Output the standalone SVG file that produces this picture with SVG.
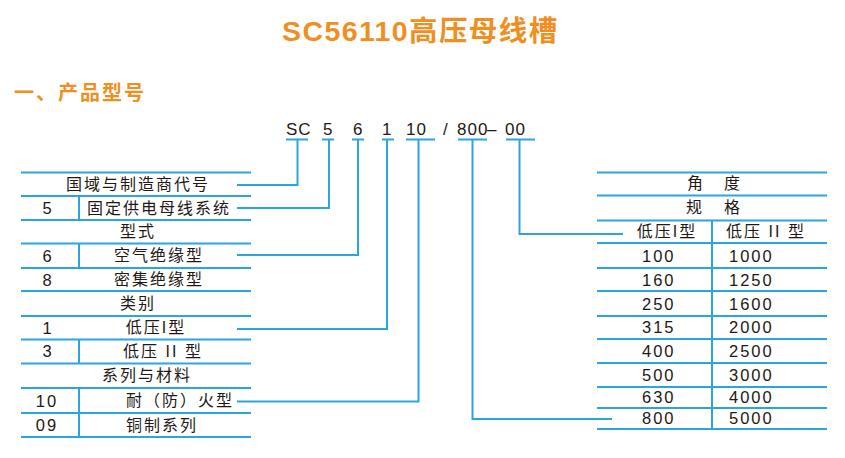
<svg xmlns="http://www.w3.org/2000/svg" width="845" height="458" viewBox="0 0 845 458">
<style>
.t{font-family:"Liberation Sans","Noto Sans CJK SC",sans-serif;fill:#231815;font-size:16px;letter-spacing:2px}
.n{font-family:"Liberation Sans","Noto Sans CJK SC",sans-serif;fill:#231815;font-size:16.5px;letter-spacing:2px}
.c{font-family:"Liberation Sans","Noto Sans CJK SC",sans-serif;fill:#231815;font-size:17px;letter-spacing:1px}
.h{font-family:"Liberation Sans","Noto Sans CJK SC",sans-serif;fill:#EF8F1F;font-weight:bold}
.m{text-anchor:middle}
.l{stroke:#2AA5DE;stroke-width:2;fill:none}
</style>
<rect width="845" height="458" fill="#fff"/>
<text class="h" x="282" y="41" font-size="28.5" letter-spacing="1.4">SC56110高压母线槽</text>
<text class="h" x="14" y="100" font-size="20" letter-spacing="2">一、产品型号</text>

<g id="code">
<text class="c" y="135"><tspan x="286">SC</tspan><tspan x="323">5</tspan><tspan x="353">6</tspan><tspan x="382">1</tspan><tspan x="406">10</tspan><tspan x="443">/</tspan><tspan x="457">800</tspan><tspan x="487">–</tspan><tspan x="505">00</tspan></text>
</g>

<g id="left-table">
<g class="l">
<path d="M21 172.5H251M21 196H251M21 220H251M21 243.5H251M21 268H251M21 291H251M21 316H251M21 339.5H251M21 363.5H251M21 388H251M21 413H251M21 437H251"/>
<path d="M79 196V220M79 243.5V268M79 339.5V363.5M79 388V437"/>
</g>
<text class="t m" x="138" y="190">国域与制造商代号</text>
<text class="n m" x="48" y="214">5</text>
<text class="t m" x="159" y="214">固定供电母线系统</text>
<text class="t m" x="138" y="237">型式</text>
<text class="n m" x="48" y="262">6</text>
<text class="t m" x="159" y="261">空气绝缘型</text>
<text class="n m" x="48" y="286">8</text>
<text class="t m" x="159" y="285">密集绝缘型</text>
<text class="t m" x="138" y="309">类别</text>
<text class="n m" x="48" y="334">1</text>
<text class="t m" x="156" y="333">低压I型</text>
<text class="n m" x="48" y="357">3</text>
<text class="t m" x="163" y="357">低压 II 型</text>
<text class="t m" x="147" y="381">系列与材料</text>
<text class="n m" x="47" y="407">10</text>
<text class="t m" x="180" y="406">耐（防）火型</text>
<text class="n m" x="47" y="431">09</text>
<text class="t m" x="162" y="431">铜制系列</text>
</g>

<g id="right-table">
<g class="l">
<path d="M597 172.5H827M597 195.5H827M597 220.5H827M597 243H827M597 268H827M597 291H827M597 316H827M597 339H827M597 363H827M597 387H827M597 408H827M597 429H827"/>
<path d="M712 220.5V429"/>
</g>
<text class="t m" x="696" y="189">角</text>
<text class="t m" x="733" y="189">度</text>
<text class="t m" x="695" y="213">规</text>
<text class="t m" x="733" y="213">格</text>
<text class="t m" x="667" y="237">低压I型</text>
<text class="t m" x="766" y="237">低压 II 型</text>
<text class="n" x="642" y="262">100</text><text class="n" x="729" y="262">1000</text>
<text class="n" x="642" y="286">160</text><text class="n" x="729" y="286">1250</text>
<text class="n" x="642" y="310">250</text><text class="n" x="729" y="310">1600</text>
<text class="n" x="642" y="333">315</text><text class="n" x="729" y="333">2000</text>
<text class="n" x="642" y="357">400</text><text class="n" x="729" y="357">2500</text>
<text class="n" x="642" y="381">500</text><text class="n" x="729" y="381">3000</text>
<text class="n" x="642" y="403">630</text><text class="n" x="729" y="403">4000</text>
<text class="n" x="642" y="424">800</text><text class="n" x="729" y="424">5000</text>
</g>

<g id="connectors" class="l">
<path d="M286 139.5H308M322 139.5H334M352 139.5H364M382 139.5H394M406 139.5H435M458 139.5H487M506 139.5H535"/>
<path d="M297.5 139.5V185H237"/>
<path d="M329 139.5V208H237"/>
<path d="M358 139.5V255H237"/>
<path d="M387 139.5V329H237"/>
<path d="M418.5 139.5V401.5H237"/>
<path d="M472.5 139.5V419H612"/>
<path d="M519.5 139.5V234H623"/>
</g>
</svg>
